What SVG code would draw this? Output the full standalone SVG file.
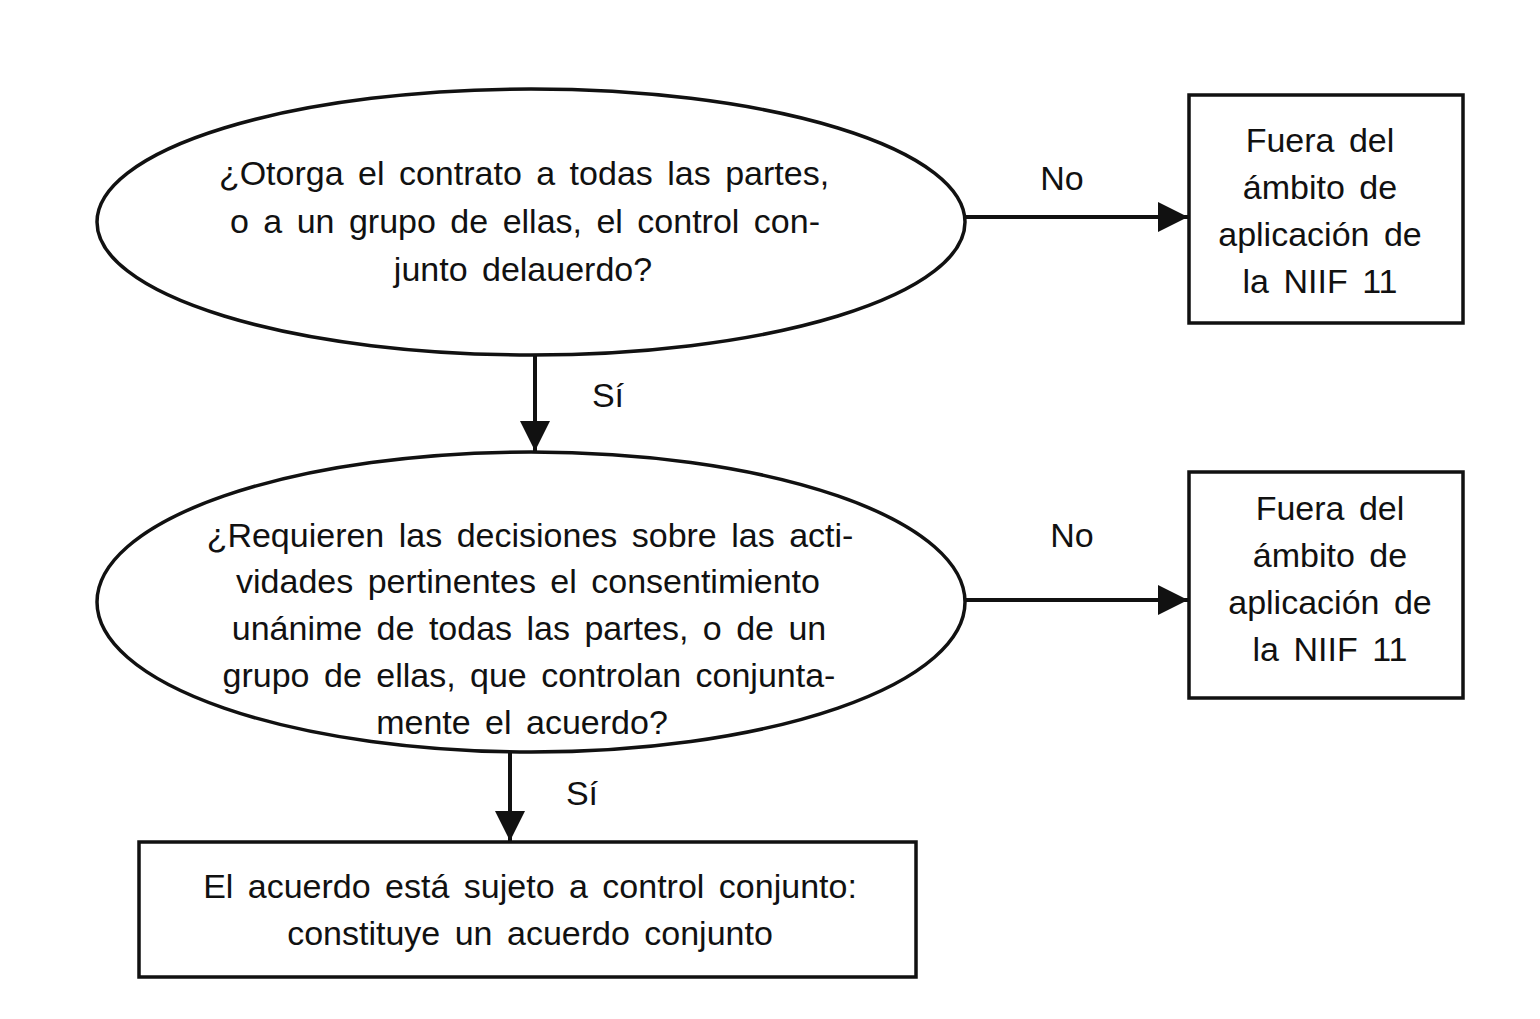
<svg xmlns="http://www.w3.org/2000/svg" width="1540" height="1019" viewBox="0 0 1540 1019">
<defs>
<style>
.s{fill:#fff;stroke:#111;stroke-width:3.5}
.t{font-family:"Liberation Sans",Arial,sans-serif;font-size:34px;fill:#111;text-anchor:middle;word-spacing:5px}
.c{stroke:#111;stroke-width:4;fill:none}
</style>
<marker id="ah" viewBox="0 0 10 10" refX="10" refY="5" markerWidth="7.5" markerHeight="8" markerUnits="strokeWidth" orient="auto">
<path d="M0,0 L10,5 L0,10 Z" fill="#111"/>
</marker>
</defs>
<rect width="1540" height="1019" fill="#fff"/>
<g id="connectors">
<line class="c" x1="965" y1="217" x2="1188" y2="217" marker-end="url(#ah)"/>
<line class="c" x1="965" y1="600" x2="1188" y2="600" marker-end="url(#ah)"/>
<line class="c" x1="535" y1="355" x2="535" y2="451" marker-end="url(#ah)"/>
<line class="c" x1="510" y1="752" x2="510" y2="841" marker-end="url(#ah)"/>
<text class="t" x="1062" y="190">No</text>
<text class="t" x="1072" y="547">No</text>
<text class="t" x="608" y="407">Sí</text>
<text class="t" x="582" y="805">Sí</text>
</g>
<g id="q1">
<ellipse class="s" cx="531" cy="222" rx="434" ry="133"/>
<text class="t" x="524" y="185">¿Otorga el contrato a todas las partes,</text>
<text class="t" x="525" y="233">o a un grupo de ellas, el control con-</text>
<text class="t" x="523" y="281">junto delauerdo?</text>
</g>
<g id="q2">
<ellipse class="s" cx="531" cy="602" rx="434" ry="150"/>
<text class="t" x="530" y="547">¿Requieren las decisiones sobre las acti-</text>
<text class="t" x="528" y="593">vidades pertinentes el consentimiento</text>
<text class="t" x="529" y="640">unánime de todas las partes, o de un</text>
<text class="t" x="529" y="687">grupo de ellas, que controlan conjunta-</text>
<text class="t" x="522" y="734">mente el acuerdo?</text>
</g>
<g id="out1">
<rect class="s" x="1189" y="95" width="274" height="228"/>
<text class="t" x="1320" y="152">Fuera del</text>
<text class="t" x="1320" y="199">ámbito de</text>
<text class="t" x="1320" y="246">aplicación de</text>
<text class="t" x="1320" y="293">la NIIF 11</text>
</g>
<g id="out2">
<rect class="s" x="1189" y="472" width="274" height="226"/>
<text class="t" x="1330" y="520">Fuera del</text>
<text class="t" x="1330" y="567">ámbito de</text>
<text class="t" x="1330" y="614">aplicación de</text>
<text class="t" x="1330" y="661">la NIIF 11</text>
</g>
<g id="result">
<rect class="s" x="139" y="842" width="777" height="135"/>
<text class="t" x="530" y="898">El acuerdo está sujeto a control conjunto:</text>
<text class="t" x="530" y="945">constituye un acuerdo conjunto</text>
</g>
</svg>
